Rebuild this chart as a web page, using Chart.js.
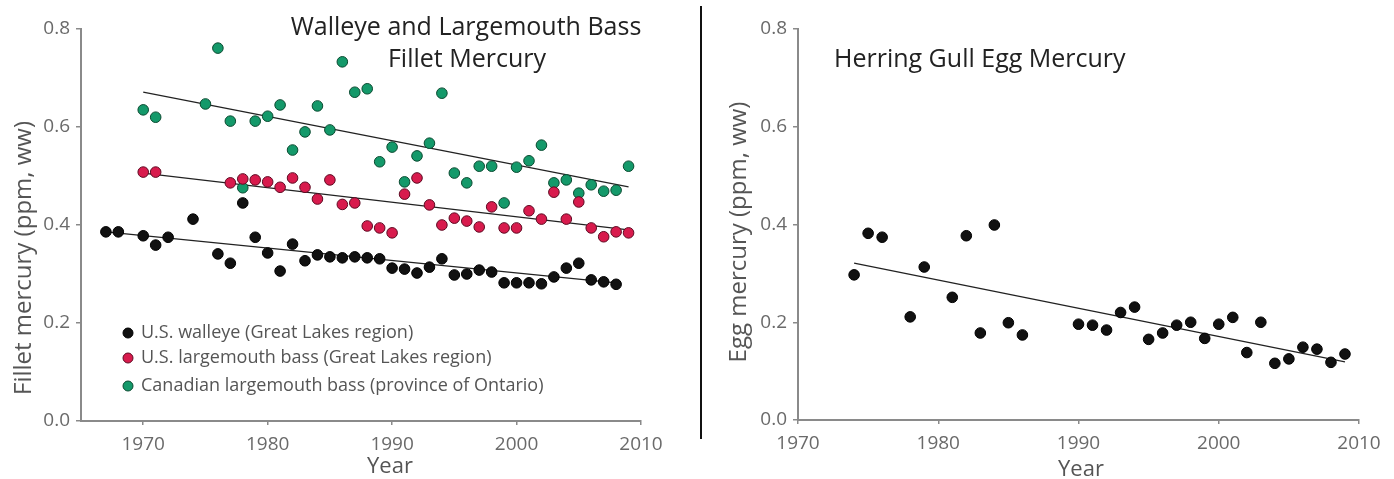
<!DOCTYPE html>
<html>
<head>
<meta charset="utf-8">
<script src="https://cdn.jsdelivr.net/npm/chart.js@4"></script>
<style>
  body { margin: 0; background: #fff; }
  #wrap { position: relative; width: 1394px; height: 479px; }
  #left { position: absolute; left: 0; top: 0; }
  #right { position: absolute; left: 700px; top: 0; }
  #sep { position: absolute; left: 700px; top: 6px; width: 2px; height: 433px; background: #111; }
</style>
</head>
<body>
<div id="wrap">
  <canvas id="left" width="700" height="479"></canvas>
  <canvas id="right" width="694" height="479"></canvas>
  <div id="sep"></div>
</div>
<script>
// tick labels
const yearTicks = [1970, 1980, 1990, 2000, 2010];
const hgTicks = [0.0, 0.2, 0.4, 0.6, 0.8];

// U.S. walleye
const walleyeYears = [1967, 1968, 1970, 1971, 1972, 1974, 1976, 1977, 1978, 1979, 1980, 1981, 1982, 1983, 1984, 1985, 1986, 1987, 1988, 1989, 1990, 1991, 1992, 1993, 1994, 1995, 1996, 1997, 1998, 1999, 2000, 2001, 2002, 2003, 2004, 2005, 2006, 2007, 2008];
const walleyeHg = [0.386, 0.386, 0.378, 0.359, 0.375, 0.412, 0.341, 0.322, 0.445, 0.375, 0.343, 0.306, 0.361, 0.327, 0.339, 0.335, 0.333, 0.335, 0.333, 0.331, 0.312, 0.31, 0.302, 0.314, 0.331, 0.298, 0.30, 0.308, 0.304, 0.282, 0.282, 0.282, 0.28, 0.294, 0.312, 0.322, 0.288, 0.284, 0.279];

// U.S. largemouth bass
const usBassYears = [1970, 1971, 1977, 1978, 1979, 1980, 1981, 1982, 1983, 1984, 1985, 1986, 1987, 1988, 1989, 1990, 1991, 1992, 1993, 1994, 1995, 1996, 1997, 1998, 1999, 2000, 2001, 2002, 2003, 2004, 2005, 2006, 2007, 2008, 2009];
const usBassHg = [0.508, 0.508, 0.486, 0.494, 0.492, 0.488, 0.477, 0.496, 0.477, 0.453, 0.492, 0.442, 0.445, 0.398, 0.394, 0.384, 0.463, 0.496, 0.441, 0.40, 0.414, 0.408, 0.396, 0.437, 0.394, 0.394, 0.429, 0.412, 0.467, 0.412, 0.447, 0.394, 0.376, 0.386, 0.384];

// Canadian largemouth bass
const caBassYears = [1970, 1971, 1975, 1976, 1977, 1978, 1979, 1980, 1981, 1982, 1983, 1984, 1985, 1986, 1987, 1988, 1989, 1990, 1991, 1992, 1993, 1994, 1995, 1996, 1997, 1998, 1999, 2000, 2001, 2002, 2003, 2004, 2005, 2006, 2007, 2008, 2009];
const caBassHg = [0.635, 0.62, 0.647, 0.761, 0.612, 0.476, 0.612, 0.622, 0.645, 0.553, 0.59, 0.643, 0.594, 0.733, 0.671, 0.678, 0.529, 0.559, 0.488, 0.541, 0.567, 0.669, 0.506, 0.486, 0.52, 0.52, 0.445, 0.518, 0.531, 0.563, 0.486, 0.492, 0.465, 0.482, 0.469, 0.471, 0.52];

// herring gull eggs
const gullYears = [1974, 1975, 1976, 1978, 1979, 1981, 1982, 1983, 1984, 1985, 1986, 1990, 1991, 1992, 1993, 1994, 1995, 1996, 1997, 1998, 1999, 2000, 2001, 2002, 2003, 2004, 2005, 2006, 2007, 2008, 2009];
const gullHg = [0.297, 0.382, 0.374, 0.211, 0.313, 0.251, 0.377, 0.178, 0.399, 0.199, 0.174, 0.196, 0.194, 0.184, 0.22, 0.231, 0.165, 0.178, 0.194, 0.2, 0.167, 0.196, 0.21, 0.138, 0.2, 0.116, 0.125, 0.149, 0.145, 0.118, 0.135];

// trend lines (end points)
const walleyeTrendYears = [1967, 2008];
const walleyeTrendHg = [0.386, 0.282];
const usBassTrendYears = [1970, 2009];
const usBassTrendHg = [0.506, 0.39];
const caBassTrendYears = [1970, 2009];
const caBassTrendHg = [0.671, 0.478];
const gullTrendYears = [1974, 2009];
const gullTrendHg = [0.321, 0.119];

const FONT = "'Open Sans', sans-serif";
const AXIS = "#8a8a8a";

function pts(xs, ys) {
  return xs.map((x, i) => ({ x: x, y: ys[i] }));
}

function dots(label, xs, ys, fill, border) {
  return {
    label: label,
    data: pts(xs, ys),
    backgroundColor: fill,
    borderColor: border,
    borderWidth: 1,
    pointRadius: 5.3,
    pointHoverRadius: 5.3,
  };
}

function trend(xs, ys) {
  return {
    label: "",
    data: pts(xs, ys),
    showLine: true,
    borderColor: "#222",
    borderWidth: 1.3,
    pointRadius: 0,
    fill: false,
  };
}

function scales(xmin, yWidth, xHeight) {
  return {
    x: {
      type: "linear",
      min: xmin,
      max: 2010,
      afterBuildTicks: (s) => { s.ticks = yearTicks.map((v) => ({ value: v })); },
      afterFit: (s) => { s.height = xHeight; },
      ticks: { color: "#6a6a6a", font: { family: FONT, size: 19 }, padding: 8, callback: (v) => String(v) },
      grid: { drawOnChartArea: false, drawTicks: true, tickLength: 4, color: AXIS, lineWidth: 1.5 },
      border: { display: true, color: AXIS, width: 2 },
    },
    y: {
      min: 0,
      max: 0.8,
      afterBuildTicks: (s) => { s.ticks = hgTicks.map((v) => ({ value: v })); },
      afterFit: (s) => { s.width = yWidth; },
      ticks: { color: "#6a6a6a", font: { family: FONT, size: 19 }, padding: 6, callback: (v) => v.toFixed(1) },
      grid: { drawOnChartArea: false, drawTicks: true, tickLength: 5, color: AXIS, lineWidth: 1.5 },
      border: { display: true, color: AXIS, width: 2 },
    },
  };
}

// draws titles, axis titles and legend as canvas text
const textPlugin = {
  id: "texts",
  afterDraw(chart, args, opts) {
    const ctx = chart.ctx;
    ctx.save();
    ctx.textBaseline = "middle";
    (opts.titles || []).forEach((t) => {
      ctx.fillStyle = "#222";
      ctx.font = t.size + "px " + FONT;
      ctx.textAlign = t.align;
      ctx.fillText(t.text, t.x, t.y);
    });
    (opts.axisTitles || []).forEach((t) => {
      ctx.fillStyle = "#555";
      ctx.font = t.size + "px " + FONT;
      ctx.textAlign = "center";
      ctx.save();
      ctx.translate(t.x, t.y);
      if (t.rot) ctx.rotate(-Math.PI / 2);
      ctx.fillText(t.text, 0, 0);
      ctx.restore();
    });
    if (opts.legend) {
      const lg = opts.legend;
      chart.data.datasets.forEach((ds, i) => {
        if (!ds.label) return;
        const y = lg.y + lg.rows[i];
        ctx.beginPath();
        ctx.arc(lg.x, y, 5, 0, Math.PI * 2);
        ctx.fillStyle = ds.backgroundColor;
        ctx.fill();
        ctx.lineWidth = 1;
        ctx.strokeStyle = ds.borderColor;
        ctx.stroke();
        ctx.fillStyle = "#555";
        ctx.font = lg.size + "px " + FONT;
        ctx.textAlign = "left";
        ctx.fillText(ds.label, lg.x + 13, y);
      });
    }
    ctx.restore();
  },
};

new Chart(document.getElementById("left"), {
  type: "scatter",
  data: {
    datasets: [
      dots("U.S. walleye (Great Lakes region)", walleyeYears, walleyeHg, "#111", "#000"),
      dots("U.S. largemouth bass (Great Lakes region)", usBassYears, usBassHg, "#d81b4d", "#5e0a22"),
      dots("Canadian largemouth bass (province of Ontario)", caBassYears, caBassHg, "#14996a", "#0a4a30"),
      trend(walleyeTrendYears, walleyeTrendHg),
      trend(usBassTrendYears, usBassTrendHg),
      trend(caBassTrendYears, caBassTrendHg),
    ],
  },
  options: {
    responsive: false,
    animation: false,
    layout: { padding: { top: 29, right: 59, bottom: 0, left: 0 } },
    scales: scales(1965, 81, 58),
    plugins: {
      legend: { display: false },
      tooltip: { enabled: false },
      texts: {
        titles: [
          { text: "Walleye and Largemouth Bass", x: 466, y: 28, size: 25, align: "center" },
          { text: "Fillet Mercury", x: 467, y: 60, size: 25, align: "center" },
        ],
        axisTitles: [
          { text: "Fillet mercury (ppm, ww)", x: 24, y: 258, size: 24, rot: true },
          { text: "Year", x: 390, y: 467, size: 22, rot: false },
        ],
        legend: { x: 128, y: 333, rows: [0, 25, 53], size: 18 },
      },
    },
  },
  plugins: [textPlugin],
});

new Chart(document.getElementById("right"), {
  type: "scatter",
  data: {
    datasets: [
      dots("", gullYears, gullHg, "#111", "#000"),
      trend(gullTrendYears, gullTrendHg),
    ],
  },
  options: {
    responsive: false,
    animation: false,
    layout: { padding: { top: 29, right: 35, bottom: 0, left: 0 } },
    scales: scales(1970, 98, 59),
    plugins: {
      legend: { display: false },
      tooltip: { enabled: false },
      texts: {
        titles: [
          { text: "Herring Gull Egg Mercury", x: 134, y: 60, size: 25, align: "left" },
        ],
        axisTitles: [
          { text: "Egg mercury (ppm, ww)", x: 39, y: 232, size: 24, rot: true },
          { text: "Year", x: 381, y: 470, size: 22, rot: false },
        ],
      },
    },
  },
  plugins: [textPlugin],
});
</script>
</body>
</html>
